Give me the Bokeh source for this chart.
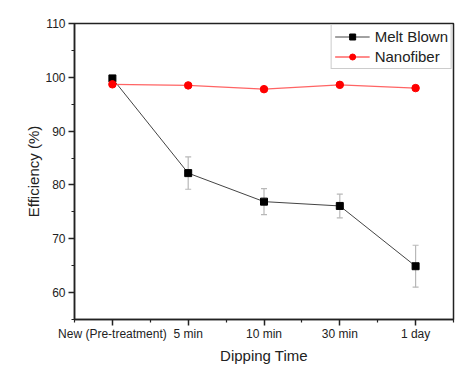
from bokeh.plotting import figure
from bokeh.models import (ColumnDataSource, FixedTicker, SingleIntervalTicker,
                          Whisker, TeeHead, Legend, LegendItem, Range1d)
from bokeh.embed import file_html
from bokeh.resources import INLINE

categories = ["New (Pre-treatment)", "5 min", "10 min", "30 min", "1 day"]
melt_blown = [99.8, 82.2, 76.9, 76.1, 64.9]
melt_blown_err = [0.0, 3.0, 2.4, 2.2, 3.9]
nanofiber = [98.7, 98.5, 97.8, 98.6, 98.0]

x = list(range(len(categories)))
FONT = "Liberation Sans"

p = figure(width=461, height=366, output_backend="svg", toolbar_location=None,
           x_range=Range1d(-0.5, 4.5), y_range=Range1d(55, 110),
           min_border_left=74, min_border_right=8, min_border_top=23,
           min_border_bottom=45)
p.xgrid.visible = False
p.ygrid.visible = False
p.outline_line_color = "#222222"
p.outline_line_width = 1.5
p.outline_line_alpha = 1.0

mb_src = ColumnDataSource(dict(
    x=x, y=melt_blown,
    upper=[v + e for v, e in zip(melt_blown, melt_blown_err)],
    lower=[v - e for v, e in zip(melt_blown, melt_blown_err)]))
nf_src = ColumnDataSource(dict(x=x, y=nanofiber))

w = Whisker(source=mb_src, base="x", upper="upper", lower="lower",
            line_color="#b8b8b8", line_width=1.2,
            upper_head=TeeHead(size=6, line_color="#b8b8b8", line_width=1.2),
            lower_head=TeeHead(size=6, line_color="#b8b8b8", line_width=1.2))
p.add_layout(w)

mb_line = p.line("x", "y", source=mb_src, line_color="#444444", line_width=1)
mb_mark = p.scatter("x", "y", source=mb_src, marker="square", size=7,
                    fill_color="#000000", line_color="#000000")
nf_line = p.line("x", "y", source=nf_src, line_color="#ff6464", line_width=1.3)
nf_mark = p.scatter("x", "y", source=nf_src, marker="circle", size=7.5,
                    fill_color="#ff0000", line_color="#ff0000")

# axes
p.xaxis.ticker = FixedTicker(ticks=x, minor_ticks=[-0.5, 0.5, 1.5, 2.5, 3.5, 4.5])
p.xaxis.major_label_overrides = {i: c for i, c in zip(x, categories)}
p.yaxis.ticker = SingleIntervalTicker(interval=10, num_minor_ticks=2)
for ax in (p.xaxis, p.yaxis):
    ax.axis_line_color = "#222222"
    ax.axis_line_width = 1.5
    ax.major_tick_line_color = "#222222"
    ax.major_tick_line_width = 1.5
    ax.minor_tick_line_color = "#222222"
    ax.minor_tick_line_width = 1.2
    ax.major_tick_in = 0
    ax.major_tick_out = 6
    ax.minor_tick_in = 0
    ax.minor_tick_out = 3
    ax.major_label_text_font = FONT
    ax.major_label_text_font_size = "12px"
    ax.major_label_text_color = "#222222"
    ax.axis_label_text_font = FONT
    ax.axis_label_text_font_size = "15px"
    ax.axis_label_text_font_style = "normal"
    ax.axis_label_text_color = "#222222"
p.xaxis.axis_label = "Dipping Time"
p.yaxis.axis_label = "Efficiency (%)"
p.xaxis.major_label_standoff = 1
p.yaxis.major_label_standoff = 3
p.xaxis.axis_label_standoff = 3
p.yaxis.axis_label_standoff = 0

legend = Legend(items=[LegendItem(label="Melt Blown", renderers=[mb_line, mb_mark]),
                       LegendItem(label="Nanofiber", renderers=[nf_line, nf_mark])],
                location="top_right")
legend.margin = 1
legend.padding = 3
legend.spacing = 3
legend.glyph_width = 35
legend.glyph_height = 15
legend.label_height = 15
legend.label_standoff = 5
legend.label_text_font = FONT
legend.label_text_font_size = "15px"
legend.label_text_color = "#222222"
legend.border_line_color = "#999999"
legend.border_line_width = 1
legend.background_fill_alpha = 1.0
p.add_layout(legend)

open("out.html", "w").write(file_html(p, INLINE))
